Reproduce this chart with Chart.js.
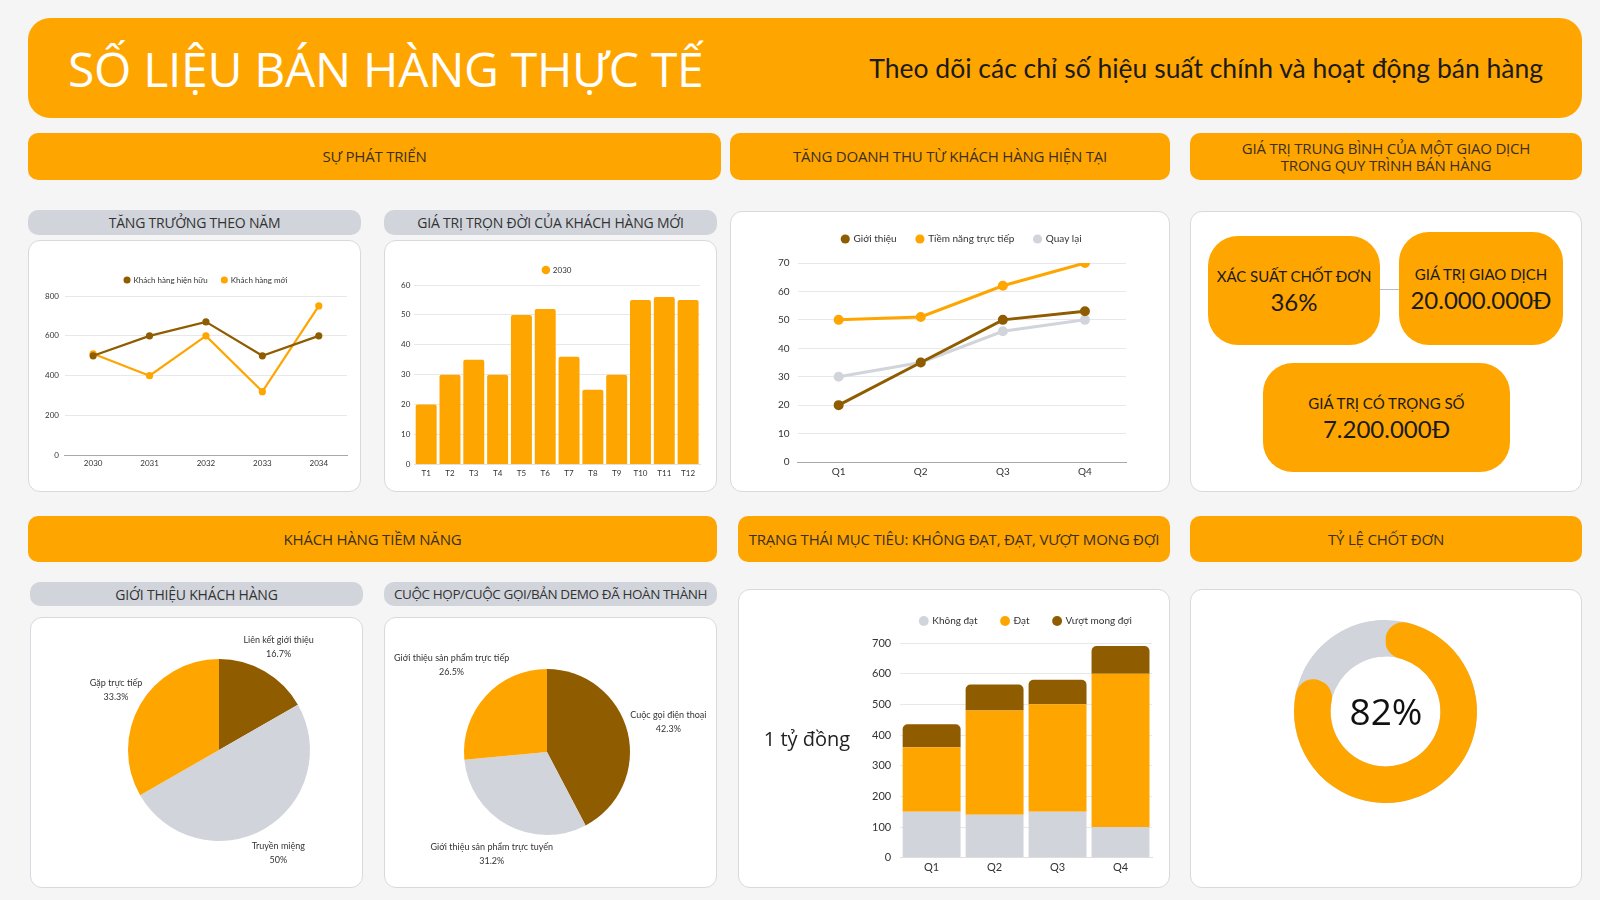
<!DOCTYPE html>
<html lang="vi">
<head>
<meta charset="utf-8">
<title>Số liệu bán hàng thực tế</title>
<script src="https://cdn.jsdelivr.net/npm/chart.js@4.4.1/dist/chart.umd.min.js"></script>
<style>
  body { margin: 0; background: #f5f5f5; }
  #page { position: relative; width: 1600px; height: 900px; overflow: hidden; font-family: 'Open Sans', sans-serif; background: #f5f5f5; }
  .abs { position: absolute; box-sizing: border-box; }
  .header { left: 28px; top: 18px; width: 1554px; height: 100px; background: #FFA500; border-radius: 22px;
            display: flex; align-items: center; justify-content: space-between; padding: 0 39px 0 40px; }
  .header h1 { margin: 0; font-weight: 400; font-size: 48px; color: #fff; letter-spacing: -0.3px; }
  .header p { margin: 0; font-family: Lato, sans-serif; font-size: 26.5px; color: #1a1a1a; }
  .band { background: #FFA500; border-radius: 10px; display: flex; align-items: center; justify-content: center;
          text-align: center; color: #3a3020; font-size: 15px; line-height: 17px; letter-spacing: -0.2px; }
  .pill { background: #d1d5db; border-radius: 10px; display: flex; align-items: center; justify-content: center;
          color: #333; font-size: 14px; letter-spacing: -0.2px; white-space: nowrap; }
  .card { background: #fff; border: 1.5px solid #d6d9de; border-radius: 12px; }
  .chart { position: absolute; }
  .kpi { background: #FFA500; border-radius: 30px; display: flex; flex-direction: column; align-items: center;
         justify-content: center; font-family: Lato, sans-serif; color: #1a1a1a; }
  .kpi .lbl { font-size: 15px; line-height: 22px; }
  .kpi .val { font-size: 24px; line-height: 30px; }
</style>
</head>
<body>
<div id="page">
  <div class="abs header"><h1>SỐ LIỆU BÁN HÀNG THỰC TẾ</h1><p>Theo dõi các chỉ số hiệu suất chính và hoạt động bán hàng</p></div>

  <div class="abs band" style="left:28px;top:133px;width:693px;height:47px;">SỰ PHÁT TRIỂN</div>
  <div class="abs band" style="left:730px;top:133px;width:440px;height:47px;">TĂNG DOANH THU TỪ KHÁCH HÀNG HIỆN TẠI</div>
  <div class="abs band" style="left:1190px;top:133px;width:392px;height:47px;">GIÁ TRỊ TRUNG BÌNH CỦA MỘT GIAO DỊCH<br>TRONG QUY TRÌNH BÁN HÀNG</div>

  <div class="abs pill" style="left:28px;top:210px;width:333px;height:25px;">TĂNG TRƯỞNG THEO NĂM</div>
  <div class="abs pill" style="left:384px;top:210px;width:333px;height:25px;">GIÁ TRỊ TRỌN ĐỜI CỦA KHÁCH HÀNG MỚI</div>

  <div class="abs card" style="left:28px;top:240px;width:333px;height:252px;"></div>
  <div class="abs card" style="left:384px;top:240px;width:333px;height:252px;"></div>
  <div class="abs card" style="left:730px;top:211px;width:440px;height:281px;"></div>
  <div class="abs card" style="left:1190px;top:211px;width:392px;height:281px;"></div>

  <div class="abs band" style="left:28px;top:516px;width:689px;height:46px;">KHÁCH HÀNG TIỀM NĂNG</div>
  <div class="abs band" style="left:738px;top:516px;width:432px;height:46px;">TRẠNG THÁI MỤC TIÊU: KHÔNG ĐẠT, ĐẠT, VƯỢT MONG ĐỢI</div>
  <div class="abs band" style="left:1190px;top:516px;width:392px;height:46px;">TỶ LỆ CHỐT ĐƠN</div>

  <div class="abs pill" style="left:30px;top:582px;width:333px;height:24px;">GIỚI THIỆU KHÁCH HÀNG</div>
  <div class="abs pill" style="left:384px;top:582px;width:333px;height:24px;font-size:13.5px;letter-spacing:-0.4px;">CUỘC HỌP/CUỘC GỌI/BẢN DEMO ĐÃ HOÀN THÀNH</div>

  <div class="abs card" style="left:30px;top:617px;width:333px;height:271px;"></div>
  <div class="abs card" style="left:384px;top:617px;width:333px;height:271px;"></div>
  <div class="abs card" style="left:738px;top:589px;width:432px;height:299px;"></div>
  <div class="abs card" style="left:1190px;top:589px;width:392px;height:299px;"></div>

  <!-- KPI bubbles -->
  <div class="abs" style="left:1380px;top:289px;width:19px;height:1px;background:#b8bcc4;"></div>
  <div class="abs kpi" style="left:1208px;top:236px;width:172px;height:109px;"><div class="lbl">XÁC SUẤT CHỐT ĐƠN</div><div class="val">36%</div></div>
  <div class="abs kpi" style="left:1399px;top:232px;width:164px;height:113px;"><div class="lbl">GIÁ TRỊ GIAO DỊCH</div><div class="val">20.000.000Đ</div></div>
  <div class="abs kpi" style="left:1263px;top:363px;width:247px;height:109px;"><div class="lbl">GIÁ TRỊ CÓ TRỌNG SỐ</div><div class="val">7.200.000Đ</div></div>

  <div class="chart" style="left:28px;top:240px;width:333px;height:252px;"><canvas id="growth"></canvas></div>
  <div class="chart" style="left:384px;top:240px;width:333px;height:252px;"><canvas id="lifetime"></canvas></div>
  <div class="chart" style="left:730px;top:211px;width:440px;height:281px;"><canvas id="revenue"></canvas></div>
  <div class="chart" style="left:30px;top:617px;width:333px;height:271px;"><canvas id="referral"></canvas></div>
  <div class="chart" style="left:384px;top:617px;width:333px;height:271px;"><canvas id="meetings"></canvas></div>
  <div class="chart" style="left:738px;top:589px;width:432px;height:299px;"><canvas id="targets"></canvas></div>
  <div class="chart" style="left:1190px;top:589px;width:392px;height:299px;"><canvas id="closeRate"></canvas></div>

  <div class="abs" style="left:755px;top:724px;width:104px;height:30px;line-height:30px;text-align:center;font-size:20px;color:#222;">1 tỷ đồng</div>
  <div class="abs" style="left:1286px;top:681px;width:200px;height:60px;line-height:60px;text-align:center;font-size:37px;color:#111;">82%</div>
</div>

<script>
const ORANGE = '#FFA500';
const BROWN = '#8F5C00';
const GRAY = '#D1D5DB';

// Tăng trưởng theo năm
const yearLabels = ['2030', '2031', '2032', '2033', '2034'];
const existingCustomers = [500, 600, 670, 500, 600];
const newCustomers = [510, 400, 600, 320, 750];

// Giá trị trọn đời của khách hàng mới
const monthLabels = ['T1', 'T2', 'T3', 'T4', 'T5', 'T6', 'T7', 'T8', 'T9', 'T10', 'T11', 'T12'];
const lifetime2030 = [20, 30, 35, 30, 50, 52, 36, 25, 30, 55, 56, 55];

// Tăng doanh thu từ khách hàng hiện tại
const quarterLabels = ['Q1', 'Q2', 'Q3', 'Q4'];
const referralRevenue = [20, 35, 50, 53];
const directLeadRevenue = [50, 51, 62, 70];
const returningRevenue = [30, 35, 46, 50];

// Giới thiệu khách hàng (%)
const referralLabels = ['Liên kết giới thiệu', 'Truyền miệng', 'Gặp trực tiếp'];
const referralShares = [16.7, 50, 33.3];

// Cuộc họp / cuộc gọi / demo (%)
const meetingLabels = ['Cuộc gọi điện thoại', 'Giới thiệu sản phẩm trực tuyến', 'Giới thiệu sản phẩm trực tiếp'];
const meetingShares = [42.3, 31.2, 26.5];

// Trạng thái mục tiêu
const targetNotMet = [150, 140, 150, 100];
const targetMet = [210, 340, 350, 500];
const targetExceeded = [75, 85, 80, 90];

// Tỷ lệ chốt đơn
const closeRateValue = 82;

Chart.defaults.font.family = 'Lato';
Chart.defaults.color = '#333';
Chart.defaults.animation = false;

// extra space under the legend, and legend centred over the plot area
function legendFit(gap) {
  return {
    id: 'legendFit',
    beforeInit(chart) {
      const legend = chart.legend;
      if (!legend) return;
      const fit = legend.fit;
      legend.fit = function () {
        fit.call(this);
        this.height += gap;
      };
    },
    afterLayout(chart) {
      const legend = chart.legend;
      if (!legend) return;
      // keep the legend's own width, only move its centre
      const half = (legend.right - legend.left) / 2;
      const mid = (chart.chartArea.left + chart.chartArea.right) / 2;
      legend.left = mid - half;
      legend.right = mid + half;
    }
  };
}

// legend dots without outline
function legendOpts(size, box, padding) {
  return {
    position: 'top',
    labels: {
      usePointStyle: true,
      pointStyle: 'circle',
      boxWidth: box,
      boxHeight: box,
      padding: padding,
      font: { size: size },
      color: '#333',
      generateLabels(chart) {
        const items = Chart.defaults.plugins.legend.labels.generateLabels(chart);
        items.forEach(i => { i.lineWidth = 0; i.strokeStyle = 'transparent'; });
        return items;
      }
    }
  };
}

// label + percentage outside each slice (dist = gap from the rim, per slice)
function sliceLabels(dist) {
  return {
    id: 'sliceLabels',
    afterDatasetsDraw(chart) {
      const { ctx } = chart;
      const meta = chart.getDatasetMeta(0);
      const values = chart.data.datasets[0].data;
      ctx.save();
      ctx.font = '9px Lato';
      ctx.fillStyle = '#333';
      ctx.textAlign = 'center';
      ctx.textBaseline = 'middle';
      meta.data.forEach((arc, i) => {
        const p = arc.getProps(['x', 'y', 'startAngle', 'endAngle', 'outerRadius'], true);
        const mid = (p.startAngle + p.endAngle) / 2;
        const r = p.outerRadius + dist[i];
        const px = p.x + Math.cos(mid) * r;
        const py = p.y + Math.sin(mid) * r;
        ctx.fillText(chart.data.labels[i], px, py - 7);
        ctx.fillText(values[i] + '%', px, py + 7);
      });
      ctx.restore();
    }
  };
}

// grey track behind the close-rate ring
const ringTrack = {
  id: 'ringTrack',
  beforeDatasetsDraw(chart) {
    const arc = chart.getDatasetMeta(0).data[0];
    if (!arc) return;
    const { x, y, innerRadius, outerRadius } = arc.getProps(['x', 'y', 'innerRadius', 'outerRadius'], true);
    const ctx = chart.ctx;
    ctx.save();
    ctx.beginPath();
    ctx.arc(x, y, outerRadius, 0, Math.PI * 2);
    ctx.arc(x, y, innerRadius, Math.PI * 2, 0, true);
    ctx.closePath();
    ctx.fillStyle = GRAY;
    ctx.fill();
    ctx.restore();
  }
};

function axisY(max, step, size, pad) {
  return {
    min: 0, max: max,
    ticks: { stepSize: step, font: { size: size }, color: '#333', padding: pad },
    grid: { color: '#e8e8e8', drawTicks: false },
    border: { display: false }
  };
}
function axisX(size, pad, borderColor) {
  return {
    offset: true,
    ticks: { font: { size: size }, color: '#333', padding: pad },
    grid: { display: false, drawTicks: false },
    border: { display: true, color: borderColor }
  };
}

new Chart(document.getElementById('growth'), {
  type: 'line',
  data: {
    labels: yearLabels,
    datasets: [
      { label: 'Khách hàng hiện hữu', data: existingCustomers, borderColor: BROWN, backgroundColor: BROWN,
        borderWidth: 2.2, pointRadius: 2.5, tension: 0 },
      { label: 'Khách hàng mới', data: newCustomers, borderColor: ORANGE, backgroundColor: ORANGE,
        borderWidth: 2.2, pointRadius: 2.5, tension: 0 }
    ]
  },
  plugins: [legendFit(2)],
  options: {
    responsive: true, maintainAspectRatio: false,
    layout: { padding: { left: 11, right: 14, top: 22, bottom: 21 } },
    plugins: { legend: legendOpts(8, 5, 14), tooltip: { enabled: false } },
    scales: { x: axisX(8, 3, '#a8a8a8'), y: axisY(800, 200, 8, 6) }
  }
});

new Chart(document.getElementById('lifetime'), {
  type: 'bar',
  data: {
    labels: monthLabels,
    datasets: [
      { label: '2030', data: lifetime2030, backgroundColor: ORANGE, borderRadius: 2,
        barPercentage: 1, categoryPercentage: 0.88 }
    ]
  },
  plugins: [legendFit(1)],
  options: {
    responsive: true, maintainAspectRatio: false,
    layout: { padding: { left: 13, right: 17, top: 16, bottom: 10 } },
    plugins: { legend: legendOpts(8, 6, 10), tooltip: { enabled: false } },
    scales: { x: axisX(8, 4, '#e0e0e0'), y: axisY(60, 10, 8, 4) }
  }
});

new Chart(document.getElementById('revenue'), {
  type: 'line',
  data: {
    labels: quarterLabels,
    datasets: [
      { label: 'Giới thiệu', data: referralRevenue, borderColor: BROWN, backgroundColor: BROWN,
        borderWidth: 3, pointRadius: 3.5, tension: 0 },
      { label: 'Tiềm năng trực tiếp', data: directLeadRevenue, borderColor: ORANGE, backgroundColor: ORANGE,
        borderWidth: 3, pointRadius: 3.5, tension: 0 },
      { label: 'Quay lại', data: returningRevenue, borderColor: GRAY, backgroundColor: GRAY,
        borderWidth: 3, pointRadius: 3.5, tension: 0 }
    ]
  },
  plugins: [legendFit(9)],
  options: {
    responsive: true, maintainAspectRatio: false,
    layout: { padding: { left: 40, right: 44, top: 3, bottom: 10 } },
    plugins: { legend: legendOpts(10, 6.5, 20), tooltip: { enabled: false } },
    scales: { x: axisX(10, 4, '#a8a8a8'), y: axisY(70, 10, 10, 8) }
  }
});

new Chart(document.getElementById('referral'), {
  type: 'pie',
  data: {
    labels: referralLabels,
    datasets: [{ data: referralShares, backgroundColor: [BROWN, GRAY, ORANGE], borderWidth: 0 }]
  },
  plugins: [sliceLabels([28, 28, 28])],
  options: {
    responsive: true, maintainAspectRatio: false,
    layout: { padding: { left: 98, right: 53, top: 42, bottom: 47 } },
    plugins: { legend: { display: false }, tooltip: { enabled: false } }
  }
});

new Chart(document.getElementById('meetings'), {
  type: 'pie',
  data: {
    labels: meetingLabels,
    datasets: [{ data: meetingShares, backgroundColor: [BROWN, GRAY, ORANGE], borderWidth: 0 }]
  },
  plugins: [sliceLabels([42, 33, 46])],
  options: {
    responsive: true, maintainAspectRatio: false,
    layout: { padding: { left: 80, right: 87, top: 52, bottom: 53 } },
    plugins: { legend: { display: false }, tooltip: { enabled: false } }
  }
});

new Chart(document.getElementById('targets'), {
  type: 'bar',
  data: {
    labels: quarterLabels,
    datasets: [
      { label: 'Không đạt', data: targetNotMet, backgroundColor: GRAY },
      { label: 'Đạt', data: targetMet, backgroundColor: ORANGE },
      { label: 'Vượt mong đợi', data: targetExceeded, backgroundColor: BROWN,
        borderRadius: { topLeft: 5, topRight: 5 }, borderSkipped: false }
    ]
  },
  plugins: [legendFit(7)],
  options: {
    responsive: true, maintainAspectRatio: false,
    datasets: { bar: { barPercentage: 1, categoryPercentage: 0.92 } },
    layout: { padding: { left: 125, right: 18, top: 3, bottom: 11 } },
    plugins: { legend: legendOpts(10, 7, 24), tooltip: { enabled: false } },
    scales: {
      x: Object.assign(axisX(11, 3, '#e0e0e0'), { stacked: true }),
      y: Object.assign(axisY(700, 100, 11, 9), { stacked: true })
    }
  }
});

new Chart(document.getElementById('closeRate'), {
  type: 'doughnut',
  data: {
    labels: ['Chốt đơn', 'Chưa chốt'],
    datasets: [{
      data: [closeRateValue, 100 - closeRateValue],
      backgroundColor: [ORANGE, GRAY],
      borderWidth: 0,
      borderRadius: [18, 0]
    }]
  },
  plugins: [ringTrack],
  options: {
    responsive: true, maintainAspectRatio: false,
    cutout: '60%',
    layout: { padding: { left: 104, right: 105, top: 31, bottom: 85 } },
    plugins: { legend: { display: false }, tooltip: { enabled: false } }
  }
});
</script>
</body>
</html>
